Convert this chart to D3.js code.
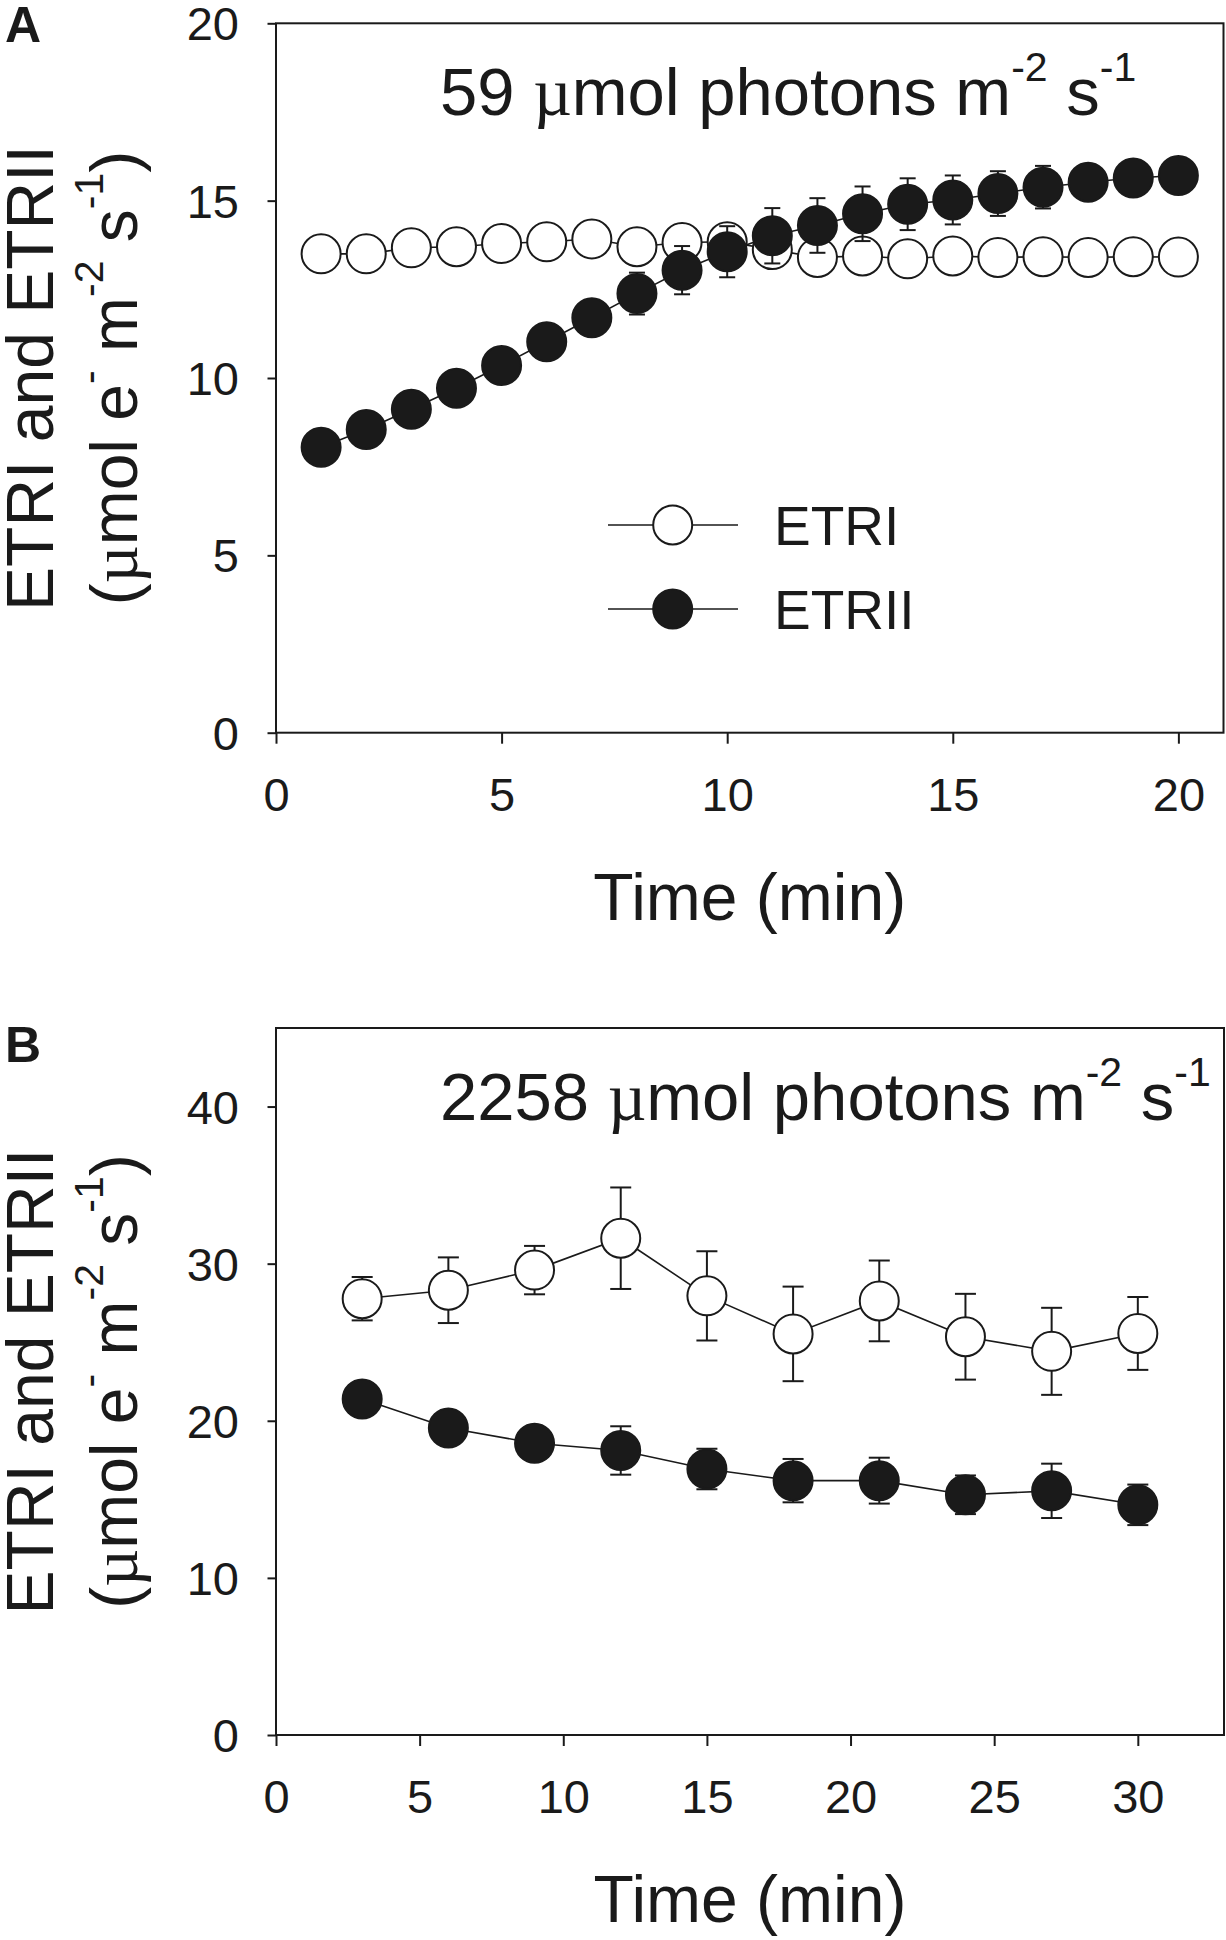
<!DOCTYPE html>
<html>
<head>
<meta charset="utf-8">
<script src="https://cdn.jsdelivr.net/npm/d3@7/dist/d3.min.js"></script>
<style>
  html, body { margin: 0; padding: 0; background: #fff; }
  svg { display: block; }
  text { font-family: "Liberation Sans", Arial, sans-serif; fill: #1a1a1a; }
</style>
</head>
<body>
<svg id="chart" width="1226" height="1940"></svg>
<script>
// ---------- Data: panel A (59 µmol photons m-2 s-1) ----------
const timeA = [1, 2, 3, 4, 5, 6, 7, 8, 9, 10, 11, 12, 13, 14, 15, 16, 17, 18, 19, 20];
const etr1A = [13.50, 13.50, 13.67, 13.70, 13.79, 13.84, 13.92, 13.70, 13.82, 13.84, 13.62, 13.40, 13.44, 13.36, 13.44, 13.40, 13.42, 13.40, 13.42, 13.41];
const etr1A_se = [0.10, 0.10, 0.10, 0.10, 0.10, 0.15, 0.15, 0.20, 0.30, 0.35, 0.40, 0.30, 0.25, 0.20, 0.20, 0.15, 0.15, 0.10, 0.10, 0.10];
const etr2A = [8.05, 8.55, 9.12, 9.71, 10.35, 11.02, 11.70, 12.38, 13.04, 13.56, 14.01, 14.30, 14.63, 14.90, 15.02, 15.20, 15.38, 15.52, 15.64, 15.71];
const etr2A_se = [0.20, 0.20, 0.20, 0.25, 0.30, 0.35, 0.45, 0.59, 0.68, 0.72, 0.78, 0.77, 0.77, 0.73, 0.69, 0.63, 0.60, 0.40, 0.30, 0.20];

// ---------- Data: panel B (2258 µmol photons m-2 s-1) ----------
const timeB = [3, 6, 9, 12, 15, 18, 21, 24, 27, 30];
const etr1B = [27.77, 28.31, 29.59, 31.62, 27.95, 25.53, 27.63, 25.35, 24.42, 25.56];
const etr1B_se = [1.38, 2.09, 1.54, 3.23, 2.84, 3.01, 2.57, 2.73, 2.77, 2.32];
const etr2B = [21.39, 19.54, 18.57, 18.11, 16.93, 16.19, 16.19, 15.29, 15.54, 14.65];
const etr2B_se = [0.60, 0.70, 0.90, 1.54, 1.29, 1.38, 1.46, 1.23, 1.73, 1.29];

// ---------- Axis ticks ----------
const xTicksA = [0, 5, 10, 15, 20];
const yTicksA = [0, 5, 10, 15, 20];
const xTicksB = [0, 5, 10, 15, 20, 25, 30];
const yTicksB = [0, 10, 20, 30, 40];

// ---------- Labels ----------
const seriesNames = ["ETRI", "ETRII"];
const panelLetters = ["A", "B"];
const lightLevels = ["59", "2258"];

const svg = d3.select("#chart");
const INK = "#1a1a1a";

function drawPanel(cfg) {
  const x = d3.scaleLinear().domain(cfg.xDomain).range([cfg.left, cfg.right]);
  const y = d3.scaleLinear().domain(cfg.yDomain).range([cfg.bottom, cfg.top]);
  const g = svg.append("g");

  // y axis
  const ya = g.append("g").attr("transform", `translate(${cfg.left},0)`)
    .call(d3.axisLeft(y).tickValues(cfg.yTicks).tickSizeInner(8.5).tickSizeOuter(0).tickPadding(28.5));
  ya.select(".domain").remove();
  ya.selectAll(".tick line").attr("stroke", INK).attr("stroke-width", 2);
  ya.selectAll(".tick text").attr("font-size", 47).attr("fill", INK)
    .attr("font-family", "Liberation Sans, Arial, sans-serif").attr("dy", "0.35em");

  // x axis
  const xa = g.append("g").attr("transform", `translate(0,${cfg.bottom})`)
    .call(d3.axisBottom(x).tickValues(cfg.xTicks).tickSizeInner(11).tickSizeOuter(0).tickPadding(34));
  xa.select(".domain").remove();
  xa.selectAll(".tick line").attr("stroke", INK).attr("stroke-width", 2);
  xa.selectAll(".tick text").attr("font-size", 47).attr("fill", INK)
    .attr("font-family", "Liberation Sans, Arial, sans-serif");

  // frame
  g.append("rect")
    .attr("x", cfg.left).attr("y", cfg.top)
    .attr("width", cfg.right - cfg.left).attr("height", cfg.bottom - cfg.top)
    .attr("fill", "none").attr("stroke", INK).attr("stroke-width", 2);

  const line = d3.line().x(d => x(d.t)).y(d => y(d.v));

  cfg.series.forEach(s => {
    const pts = s.t.map((t, i) => ({ t: t, v: s.v[i], e: s.e[i] }));
    g.append("path").datum(pts).attr("d", line)
      .attr("fill", "none").attr("stroke", INK).attr("stroke-width", 1.6);
    const eb = g.append("g");
    pts.forEach(p => {
      eb.append("line").attr("x1", x(p.t)).attr("x2", x(p.t))
        .attr("y1", y(p.v - p.e)).attr("y2", y(p.v + p.e))
        .attr("stroke", INK).attr("stroke-width", 2);
      [p.v - p.e, p.v + p.e].forEach(vv => {
        eb.append("line").attr("x1", x(p.t) - cfg.cap).attr("x2", x(p.t) + cfg.cap)
          .attr("y1", y(vv)).attr("y2", y(vv))
          .attr("stroke", INK).attr("stroke-width", 2);
      });
    });
    g.append("g").selectAll("circle").data(pts).join("circle")
      .attr("cx", d => x(d.t)).attr("cy", d => y(d.v)).attr("r", 19.5)
      .attr("fill", s.filled ? INK : "#fff").attr("stroke", INK).attr("stroke-width", 2);
  });

  // panel letter
  svg.append("text").attr("x", 5).attr("y", cfg.letterY)
    .attr("font-size", 50).attr("font-weight", "bold").attr("fill", "#000").text(cfg.letter);

  // light level title
  const tt = svg.append("text").attr("x", 440).attr("y", cfg.top + 92).attr("font-size", 67);
  tt.append("tspan").text(cfg.level + " ");
  tt.append("tspan").attr("font-family", "Liberation Serif, Times New Roman, serif").text("\u00B5");
  tt.append("tspan").text("mol photons m");
  tt.append("tspan").attr("font-size", 41).attr("dy", -34).text("-2");
  tt.append("tspan").attr("dy", 34).text(" s");
  tt.append("tspan").attr("font-size", 41).attr("dy", -34).text("-1");

  // x title
  svg.append("text").attr("x", (cfg.left + cfg.right) / 2).attr("y", cfg.bottom + 187)
    .attr("text-anchor", "middle").attr("font-size", 66).text("Time (min)");

  // y title (two lines, rotated)
  const cy = (cfg.top + cfg.bottom) / 2;
  svg.append("text").attr("transform", `translate(53,${cy}) rotate(-90)`)
    .attr("text-anchor", "middle").attr("font-size", 66).text("ETRI and ETRII");
  const t2 = svg.append("text").attr("transform", `translate(137,${cy}) rotate(-90)`)
    .attr("text-anchor", "middle").attr("font-size", 66);
  t2.append("tspan").text("(");
  t2.append("tspan").attr("font-family", "Liberation Serif, Times New Roman, serif").text("\u00B5");
  t2.append("tspan").text("mol e");
  t2.append("tspan").attr("font-size", 41).attr("dy", -34).text("-");
  t2.append("tspan").attr("dy", 34).text(" m");
  t2.append("tspan").attr("font-size", 41).attr("dy", -34).text("-2");
  t2.append("tspan").attr("dy", 34).text(" s");
  t2.append("tspan").attr("font-size", 41).attr("dy", -34).text("-1");
  t2.append("tspan").attr("dy", 34).text(")");

  return { x, y, g };
}

// Panel A
const pA = drawPanel({
  left: 276, right: 1223.5, top: 23.3, bottom: 732.7,
  xDomain: [0, 21], yDomain: [0, 20], xTicks: xTicksA, yTicks: yTicksA,
  cap: 8, letter: panelLetters[0], letterY: 42, level: lightLevels[0],
  series: [
    { t: timeA, v: etr1A, e: etr1A_se, filled: false },
    { t: timeA, v: etr2A, e: etr2A_se, filled: true }
  ]
});

// Legend (panel A)
const legendY = [525, 609];
seriesNames.forEach((name, i) => {
  const ly = legendY[i];
  pA.g.append("line").attr("x1", 608).attr("x2", 738).attr("y1", ly).attr("y2", ly)
    .attr("stroke", INK).attr("stroke-width", 1.6);
  pA.g.append("circle").attr("cx", 672.7).attr("cy", ly).attr("r", 19.5)
    .attr("fill", i === 0 ? "#fff" : INK).attr("stroke", INK).attr("stroke-width", 2);
  pA.g.append("text").attr("x", 774).attr("y", ly + 20).attr("font-size", 55).text(name);
});

// Panel B
drawPanel({
  left: 276, right: 1224, top: 1028, bottom: 1735,
  xDomain: [0, 33], yDomain: [0, 45], xTicks: xTicksB, yTicks: yTicksB,
  cap: 10.5, letter: panelLetters[1], letterY: 1062, level: lightLevels[1],
  series: [
    { t: timeB, v: etr1B, e: etr1B_se, filled: false },
    { t: timeB, v: etr2B, e: etr2B_se, filled: true }
  ]
});
</script>
</body>
</html>
